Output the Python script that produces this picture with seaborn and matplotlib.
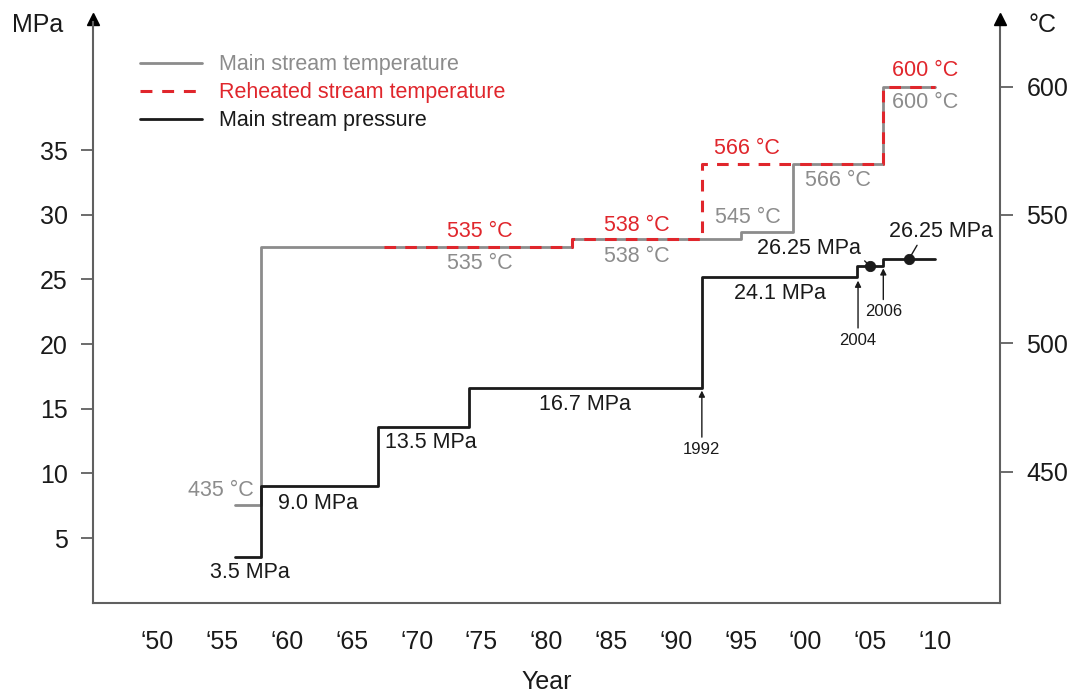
import matplotlib
matplotlib.use("Agg")
import matplotlib.pyplot as plt
import matplotlib.transforms as mtransforms
from matplotlib.lines import Line2D
import seaborn as sns

# ---------------- data ----------------
press_years = [1956, 1958, 1967, 1974, 1992, 2004, 2006, 2010]
press_mpa = [3.5, 9.0, 13.6, 16.6, 25.2, 26.0, 26.6, 26.6]

main_t_years = [1956, 1958, 1982, 1995, 1999, 2006, 2010]
main_t_c = [437, 537.5, 540.5, 543.5, 570, 600, 600]

reheat_years = [1967.5, 1982, 1992, 2006, 2010]
reheat_c = [537.5, 540.5, 570, 600, 600]

dot_years = [2005, 2008]
dot_mpa = [26.0, 26.6]

x_ticks = list(range(1950, 2011, 5))
x_labels = ["\u2018" + f"{y % 100:02d}" for y in x_ticks]
mpa_ticks = [5, 10, 15, 20, 25, 30, 35]
c_ticks = [450, 500, 550, 600]

legend_labels = ["Main stream temperature", "Reheated stream temperature", "Main stream pressure"]

# pressure labels (text, year, MPa)
press_label_text = ["3.5 MPa", "9.0 MPa", "13.5 MPa", "16.7 MPa", "24.1 MPa"]
press_label_x = [1957.1, 1962.4, 1971.1, 1983.0, 1998.0]
press_label_y = [2.3, 7.7, 12.4, 15.3, 23.9]

# temperature labels (text, year, degC, colour key)
temp_label_text = ["435 \u00b0C", "535 \u00b0C", "535 \u00b0C", "538 \u00b0C", "538 \u00b0C",
                   "545 \u00b0C", "566 \u00b0C", "566 \u00b0C", "600 \u00b0C", "600 \u00b0C"]
temp_label_x = [1957.45, 1974.85, 1974.85, 1987.0, 1987.0, 1995.55, 1995.5, 2002.5, 2009.25, 2009.25]
temp_label_y = [442.9, 543.5, 531.2, 546.1, 534.0, 549.1, 575.9, 563.6, 606.1, 593.7]
temp_label_kind = ["main", "reheat", "main", "reheat", "main", "main", "reheat", "main", "reheat", "main"]

# year arrows (text, year, text y, tip y) in MPa
yr_text = ["1992", "2004", "2006"]
yr_x = [1992, 2004.05, 2006]
yr_text_y = [11.86, 20.3, 22.5]
yr_tip_y = [16.4, 24.9, 25.85]

# 26.25 MPa leaders
lead_text_x = [2000.3, 2010.45]
lead_text_y = [27.4, 28.7]
lead_relpos = [(0.98, 0.15), (0.3, 0.1)]

GRAY = "#8c8c8c"
RED = "#e0262c"
BLACK = "#1a1a1a"
SPINE = "#606060"

sns.set_style("white")
plt.rcParams["font.family"] = ["Liberation Sans", "DejaVu Sans"]

fig = plt.figure(figsize=(10.78, 6.94), dpi=100)
ax = fig.add_axes([0.086, 0.1316, 0.8416, 0.8367])
ax2 = ax.twinx()
ax.set_zorder(ax2.get_zorder() + 1)
ax.patch.set_visible(False)

ax.set_xlim(1945, 2015)
ax.set_ylim(0, 44.9)
ax2.set_ylim(399.14, 625.1)

# temperature lines (right axis)
sns.lineplot(x=main_t_years, y=main_t_c, ax=ax2, color=GRAY, lw=2.0,
             drawstyle="steps-post", estimator=None, legend=False)
sns.lineplot(x=reheat_years, y=reheat_c, ax=ax2, color=RED, lw=2.2,
             drawstyle="steps-post", estimator=None, legend=False,
             linestyle=(0, (3.8, 3.0)))
# pressure line (left axis)
sns.lineplot(x=press_years, y=press_mpa, ax=ax, color=BLACK, lw=2.0,
             drawstyle="steps-post", estimator=None, legend=False)
sns.scatterplot(x=dot_years, y=dot_mpa, ax=ax, color=BLACK, s=55, zorder=5,
                edgecolor=BLACK, legend=False)

# axes styling
for a in (ax, ax2):
    a.spines["top"].set_visible(False)
    for s in a.spines.values():
        s.set_color(SPINE)
        s.set_linewidth(1.5)
ax.spines["right"].set_visible(False)
ax2.spines["left"].set_visible(False)
ax2.spines["bottom"].set_visible(False)

ax.set_xticks(x_ticks)
ax.set_xticklabels(x_labels)
ax.set_yticks(mpa_ticks)
ax2.set_yticks(c_ticks)
ax.tick_params(axis="x", direction="out", length=9, width=1.3, color=SPINE,
               labelsize=18, labelcolor=BLACK, pad=11)
ax.tick_params(axis="y", direction="out", length=9, width=1.3, color=SPINE,
               labelsize=18, labelcolor=BLACK, pad=9)
ax2.tick_params(axis="y", direction="out", length=9, width=1.3, color=SPINE,
                labelsize=18, labelcolor=BLACK, pad=10)
ax.set_xlabel("Year", fontsize=18, color=BLACK, labelpad=11)
ax.set_ylabel("")
ax2.set_ylabel("")

# arrow heads at top of vertical axes
off = mtransforms.offset_copy(ax.transAxes, fig=fig, y=3, units="dots")
ax.plot([0], [1], marker="^", ms=8, color="black", transform=off, clip_on=False)
ax.plot([1], [1], marker="^", ms=8, color="black", transform=off, clip_on=False)
fig.text(12 / 1078, 1 - 25 / 694, "MPa", fontsize=18, color=BLACK, ha="left", va="center")
fig.text(1028 / 1078, 1 - 25 / 694, "\u00b0C", fontsize=18, color=BLACK, ha="left", va="center")

# pressure labels
for t, x, y in zip(press_label_text, press_label_x, press_label_y):
    ax.text(x, y, t, fontsize=15.5, color=BLACK, ha="center", va="center")

# temperature labels
for t, x, y, k in zip(temp_label_text, temp_label_x, temp_label_y, temp_label_kind):
    col = RED if k == "reheat" else GRAY
    ha = "right" if t.startswith("435") else "center"
    ax2.text(x, y, t, fontsize=15.5, color=col, ha=ha, va="center")

# year arrows
for t, x, ty, tip in zip(yr_text, yr_x, yr_text_y, yr_tip_y):
    ax.annotate(t, xy=(x, tip), xytext=(x, ty), fontsize=12, color=BLACK,
                ha="center", va="center",
                arrowprops=dict(arrowstyle="-|>", color=BLACK, lw=1.0,
                                mutation_scale=9, shrinkA=1, shrinkB=0))

# 26.25 MPa labels with leader lines
for (dx, dy), tx, ty, rp in zip(zip(dot_years, dot_mpa), lead_text_x, lead_text_y, lead_relpos):
    ax.annotate("26.25 MPa", xy=(dx, dy), xytext=(tx, ty), fontsize=15.5, color=BLACK,
                ha="center", va="center",
                arrowprops=dict(arrowstyle="-", color=BLACK, lw=1.0, shrinkA=0, shrinkB=2,
                                relpos=rp))

# legend
handles = [Line2D([0], [0], color=GRAY, lw=2.0),
           Line2D([0], [0], color=RED, lw=2.2, linestyle=(0, (3.9, 3.2))),
           Line2D([0], [0], color=BLACK, lw=2.0)]
leg = ax.legend(handles, legend_labels, loc="center left",
                bbox_to_anchor=(140 / 1078, 1 - 92.7 / 694), bbox_transform=fig.transFigure,
                frameon=False, fontsize=15.5, handlelength=2.9, handletextpad=0.75,
                labelspacing=0.32, borderpad=0, borderaxespad=0)
for txt, col in zip(leg.get_texts(), [GRAY, RED, BLACK]):
    txt.set_color(col)

fig.savefig("out.png", dpi=100)
